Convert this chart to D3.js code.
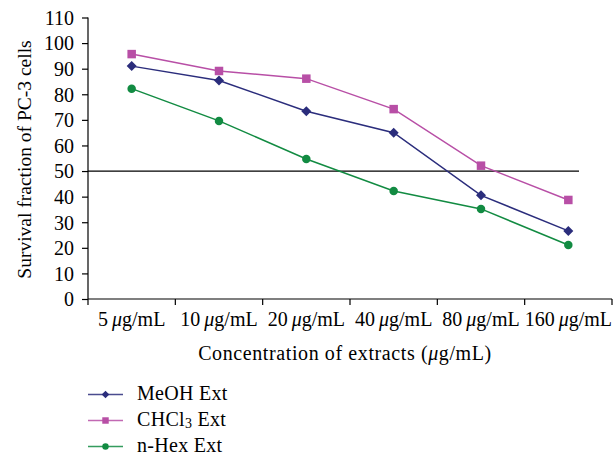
<!DOCTYPE html>
<html><head><meta charset="utf-8">
<script src="https://cdn.jsdelivr.net/npm/d3@7/dist/d3.min.js"></script>
<style>body{margin:0;background:#fff}svg{display:block}</style>
</head><body>
<svg id="c" width="615" height="456"></svg>
<script>
const categories = ["5", "10", "20", "40", "80", "160"];
const meoh = [91, 85.4, 73.4, 65, 40.5, 26.6];
const chcl3 = [95.7, 89.1, 86.1, 74.2, 52.1, 38.7];
const nhex = [82.2, 69.6, 54.7, 42.2, 35.2, 21.1];
const yTicks = [0,10,20,30,40,50,60,70,80,90,100,110];
const threshold = 50;

const FONT = "'Liberation Serif', 'DejaVu Serif', serif";
const svg = d3.select("#c");
const L = 88, R = 612, T = 17.5, B = 299;
const x = d3.scaleBand().domain(categories).range([L, R]);
const y = d3.scaleLinear().domain([0, 110]).range([B, T]);

const series = [
  {name:"MeOH Ext", values:meoh, color:"#2b2d7c", shape:"diamond"},
  {name:"CHCl3 Ext", values:chcl3, color:"#b84fa6", shape:"square"},
  {name:"n-Hex Ext", values:nhex, color:"#128b42", shape:"circle"}
];

// Y axis
const ya = svg.append("g").attr("transform",`translate(${L},0)`)
  .call(d3.axisLeft(y).tickValues(yTicks).tickSize(6).tickPadding(8));
ya.select(".domain").attr("stroke","#000").attr("stroke-width",1.2).attr("d",`M0,${B}V${T}`);
ya.selectAll(".tick line").attr("stroke","#000").attr("stroke-width",1.2);
ya.selectAll(".tick text").attr("font-family",FONT).attr("font-size",20).attr("fill","#000").attr("dy","0.34em");

// X axis
const xa = svg.append("g").attr("transform",`translate(0,${B})`)
  .call(d3.axisBottom(x).tickSize(0).tickFormat(""));
xa.select(".domain").attr("stroke","#000").attr("stroke-width",1.2).attr("d",`M${L},0H${R}`);
const bounds = [L].concat(categories.map(c => x(c) + x.bandwidth()));
xa.selectAll(".bt").data(bounds).enter().append("line")
  .attr("x1",d=>d).attr("x2",d=>d).attr("y1",0).attr("y2",6)
  .attr("stroke","#000").attr("stroke-width",1.2);
const lbl = svg.append("g");
categories.forEach(c => {
  const t = lbl.append("text").attr("x", x(c)+x.bandwidth()/2).attr("y", 326)
    .attr("text-anchor","middle").attr("font-family",FONT).attr("font-size",20).attr("fill","#000");
  t.append("tspan").text(c + "\u2009");
  t.append("tspan").attr("font-style","italic").text("\u03bc");
  t.append("tspan").text("g/mL");
});

// threshold line
svg.append("line").attr("x1",L).attr("x2",579).attr("y1",y(threshold)).attr("y2",y(threshold))
  .attr("stroke","#000").attr("stroke-width",1.3);

// axis titles
svg.append("text").attr("transform",`translate(31,159.5) rotate(-90)`)
  .attr("text-anchor","middle").attr("font-family",FONT).attr("font-size",19.5).attr("fill","#000")
  .text("Survival fraction of PC-3 cells");
const xt = svg.append("text").attr("x",345).attr("y",360).attr("text-anchor","middle")
  .attr("font-family",FONT).attr("font-size",20).attr("letter-spacing","0.6px").attr("fill","#000");
xt.append("tspan").text("Concentration of extracts (");
xt.append("tspan").attr("font-style","italic").text("\u03bc");
xt.append("tspan").text("g/mL)");

function marker(g, shape, cx, cy, color, s) {
  if (shape === "diamond") {
    g.append("path").attr("d",`M${cx},${cy-s}L${cx+s},${cy}L${cx},${cy+s}L${cx-s},${cy}Z`).attr("fill",color);
  } else if (shape === "square") {
    g.append("rect").attr("x",cx-s*0.85).attr("y",cy-s*0.85).attr("width",s*1.7).attr("height",s*1.7).attr("fill",color);
  } else {
    g.append("circle").attr("cx",cx).attr("cy",cy).attr("r",s*0.85).attr("fill",color);
  }
}

const line = d3.line().x((d,i)=>x(categories[i])+x.bandwidth()/2).y(d=>y(d));
series.forEach(s => {
  const g = svg.append("g");
  g.append("path").attr("d", line(s.values)).attr("fill","none").attr("stroke",s.color).attr("stroke-width",1.5);
  s.values.forEach((v,i)=> marker(g, s.shape, x(categories[i])+x.bandwidth()/2, y(v), s.color, 5));
});

// legend
const ly = [394.5, 420.5, 446.5];
series.forEach((s,i) => {
  const g = svg.append("g");
  g.append("line").attr("x1",88).attr("x2",123).attr("y1",ly[i]).attr("y2",ly[i]).attr("stroke",s.color).attr("stroke-width",1.6).attr("opacity",0.85);
  marker(g, s.shape, 105.5, ly[i], s.color, 3.8);
  const t = g.append("text").attr("x",137).attr("y",ly[i]+5).attr("font-family",FONT).attr("font-size",20).attr("letter-spacing","0.3px").attr("fill","#000");
  if (s.name === "CHCl3 Ext") {
    t.append("tspan").text("CHCl");
    t.append("tspan").attr("font-size",14).attr("dy",2).text("3");
    t.append("tspan").attr("dy",-2).text(" Ext");
  } else t.text(s.name);
});
</script>
</body></html>
